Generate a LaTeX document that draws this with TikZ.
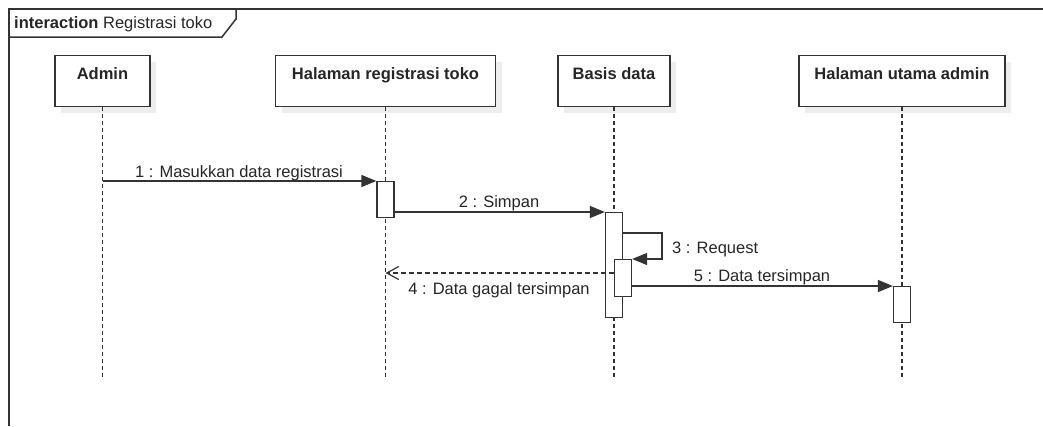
\documentclass[tikz,border=0pt]{standalone}
\usepackage{fontspec}
\setmainfont{Liberation Sans}
\usetikzlibrary{arrows.meta,calc,shadows}
\definecolor{ink}{HTML}{333333}
\begin{document}
\begin{tikzpicture}[x=1pt,y=-1pt,
  font=\fontsize{16.5}{19}\selectfont, text=black!85,
  head/.style={draw=ink, line width=1.3pt, fill=white, minimum height=51pt,
    inner sep=0pt, anchor=north,
    drop shadow={shadow xshift=6pt, shadow yshift=-6pt, fill=black!7, opacity=1}},
  headtext/.style={font=\fontsize{16.5}{19}\selectfont\bfseries, inner sep=0pt, anchor=base},
  act/.style={draw=ink, line width=1.3pt, fill=white, minimum width=17pt,
    inner sep=0pt, anchor=north},
  life/.style={draw=ink, line width=1.1pt, dash pattern=on 4pt off 3pt},
  msg/.style={draw=ink, line width=1.4pt, -{Triangle[length=15pt,width=12pt]}},
  ret/.style={draw=ink, line width=1.2pt, dash pattern=on 5pt off 3pt,
    -{Straight Barb[length=12pt,width=13pt,line width=1.2pt]}},
  lbl/.style={inner sep=0pt, anchor=base}]

\useasboundingbox (0,0) rectangle (1043,426);

% interaction frame and its name tab
\draw[ink, line width=1.5pt] (9,426) -- (9,9) -- (1043,9);
\draw[ink, line width=1.5pt] (9,37) -- (222,37) -- (236,19) -- (236,9);
\node[lbl, anchor=base west] (title) at (14,28) {\textbf{interaction} Registrasi toko};

% lifeline heads
\node[head, minimum width=95pt]  (admin) at (102.5,55) {};
\node[head, minimum width=220pt] (reg)   at (385.5,55) {};
\node[head, minimum width=112pt] (db)    at (614,55)   {};
\node[head, minimum width=206pt] (main)  at (902,55)   {};
\node[headtext] (admint) at ($(admin.north)+(0,24)$) {Admin};
\node[headtext] (regt)   at ($(reg.north)+(0,24)$)   {Halaman registrasi toko};
\node[headtext] (dbt)    at ($(db.north)+(0,24)$)    {Basis data};
\node[headtext] (maint)  at ($(main.north)+(0,24)$)  {Halaman utama admin};

% lifelines
\foreach \h in {admin,reg,db,main}
  \draw[life] (\h.south) -- (\h.south |- 0,377);

% activations
\node[act, minimum height=36pt]  (a1) at (385.5,181) {};
\node[act, minimum height=105pt] (a2) at (614,212)   {};
\node[act, minimum height=37pt]  (a3) at (623,259)   {};
\node[act, minimum height=36pt]  (a4) at (902,286)   {};

% messages
\draw[msg] (admin.south |- a1.north west) -- (a1.north west);
\node[lbl] (m1) at (239,177) {1 : Masukkan data registrasi};

\draw[msg] (a2.north west -| a1.east) -- (a2.north west);
\node[lbl] (m2) at (499,207) {2 : Simpan};

\coordinate (s3) at ($(a2.north east)+(0,21)$);
\draw[msg] (s3) -- ++(39,0) |- (a3.north east);
\node[lbl, anchor=base west] (m3) at (672,253) {3 : Request};

\coordinate (s4) at ($(a3.north west)+(0,14)$);
\draw[ret] (s4) -- (reg.south |- s4);
\node[lbl] (m4) at (499,294) {4 : Data gagal tersimpan};

\draw[msg] (a4.north west -| a3.east) -- (a4.north west);
\node[lbl] (m5) at (762,281) {5 : Data tersimpan};
\end{tikzpicture}
\end{document}
